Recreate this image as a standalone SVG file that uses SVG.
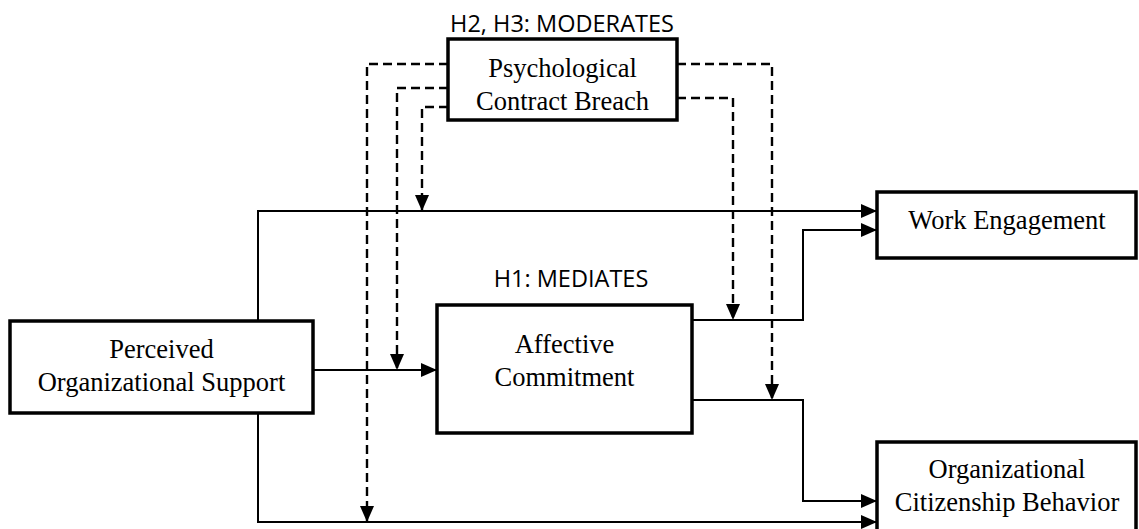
<svg xmlns="http://www.w3.org/2000/svg" width="1139" height="529" viewBox="0 0 1139 529">
  <style>
    .box { fill: #ffffff; stroke: #000000; stroke-width: 3.5; }
    .label { font-family: "Liberation Serif", "Times New Roman", serif; font-size: 26.5px; fill: #000000; text-anchor: middle; }
    .hyp { font-family: "Open Sans", "Liberation Sans", sans-serif; font-size: 23.5px; fill: #000000; text-anchor: middle; }
    .link { fill: none; stroke: #000000; stroke-width: 2; }
    .mod { fill: none; stroke: #000000; stroke-width: 2.4; stroke-dasharray: 9 5; }
  </style>
  <defs>
    <marker id="arrow" markerUnits="userSpaceOnUse" markerWidth="17" markerHeight="15" refX="16" refY="7" orient="auto">
      <path d="M0,0 L16,7 L0,14 Z" fill="#000000"/>
    </marker>
  </defs>

  <rect width="1139" height="529" fill="#ffffff"/>

  <!-- connectors -->
  <g id="connectors">
    <!-- direct paths -->
    <path class="link" d="M258,321 V211 H877" marker-end="url(#arrow)"/>
    <path class="link" d="M258,413 V522 H877" marker-end="url(#arrow)"/>
    <path class="link" d="M313,370 H437" marker-end="url(#arrow)"/>
    <path class="link" d="M692,320 H803 V230 H877" marker-end="url(#arrow)"/>
    <path class="link" d="M692,400 H803 V501 H877" marker-end="url(#arrow)"/>
    <!-- moderating paths -->
    <path class="mod" d="M448,64 H367 V522" marker-end="url(#arrow)"/>
    <path class="mod" d="M448,88 H397 V370" marker-end="url(#arrow)"/>
    <path class="mod" d="M448,107 H422 V211" marker-end="url(#arrow)"/>
    <path class="mod" d="M677,64 H772 V400" marker-end="url(#arrow)"/>
    <path class="mod" d="M677,98 H733 V320" marker-end="url(#arrow)"/>
  </g>

  <g id="pcb">
    <text class="hyp" x="562" y="32">H2, H3: MODERATES</text>
    <rect class="box" x="448" y="39" width="229" height="81"/>
    <text class="label" x="562.5" y="77">Psychological</text>
    <text class="label" x="562.5" y="110">Contract Breach</text>
  </g>

  <g id="pos">
    <rect class="box" x="10" y="321" width="303" height="92"/>
    <text class="label" x="161.5" y="358">Perceived</text>
    <text class="label" x="161.5" y="391">Organizational Support</text>
  </g>

  <g id="ac">
    <text class="hyp" x="571" y="287">H1: MEDIATES</text>
    <rect class="box" x="437" y="305" width="255" height="128"/>
    <text class="label" x="564.5" y="353">Affective</text>
    <text class="label" x="564.5" y="386">Commitment</text>
  </g>

  <g id="we">
    <rect class="box" x="877" y="192" width="259" height="66"/>
    <text class="label" x="1007" y="229">Work Engagement</text>
  </g>

  <g id="ocb">
    <rect class="box" x="877" y="442" width="259" height="100"/>
    <text class="label" x="1007" y="478">Organizational</text>
    <text class="label" x="1007" y="511">Citizenship Behavior</text>
  </g>
</svg>
